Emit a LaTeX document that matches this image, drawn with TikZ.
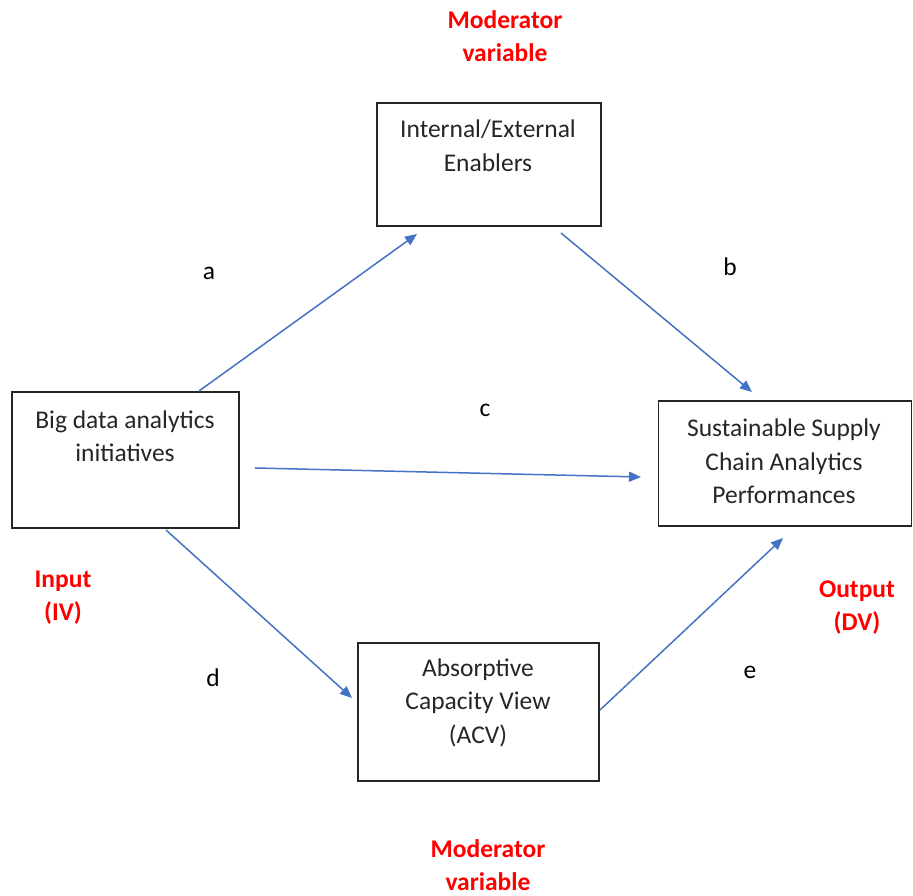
\documentclass[tikz,border=0pt]{standalone}
\usepackage{fontspec}
\setmainfont{Carlito}
\usetikzlibrary{arrows.meta,calc}
\definecolor{arrowblue}{HTML}{4472C4}
\definecolor{redlab}{HTML}{FF0000}
\tikzset{
  box/.style={draw=black!85, line width=1.4pt, minimum width=#1, inner sep=0pt},
  txt/.style={align=center, inner sep=0pt, font=\fontsize{25.5}{33.5}\selectfont, text=black!85},
  redtxt/.style={align=center, inner sep=0pt, font=\fontsize{25.5}{33}\selectfont\bfseries, text=redlab},
  lab/.style={inner sep=0pt, font=\fontsize{25.5}{33.5}\selectfont},
  conn/.style={draw=arrowblue, line width=1.5pt, -{Triangle[length=12pt,width=10pt]}}
}
\begin{document}
\begin{tikzpicture}[x=1pt,y=-1pt]
\useasboundingbox (0,0) rectangle (913,896);
% boxes
\node[box=227pt, minimum height=136pt] (bd) at (125.5,460) {};
\node[box=224pt, minimum height=123pt] (ie) at (489,164.5) {};
\node[box=253pt, minimum height=125pt] (ss) at (785,463.5) {};
\node[box=241pt, minimum height=138pt] (acv) at (478.5,712) {};
% box texts
\node[txt] (bdt) at (125,436) {Big data analytics\\initiatives};
\node[txt] (iet) at (488,145.5) {Internal/External\\Enablers};
\node[txt] (sst) at (784,461.5) {Sustainable Supply\\Chain Analytics\\Performances};
\node[txt] (acvt) at (478,702.5) {Absorptive\\Capacity View\\(ACV)};
% red labels
\node[redtxt] (modtop) at (505,36.5) {Moderator\\variable};
\node[redtxt] (modbot) at (488,865) {Moderator\\variable};
\node[redtxt] (inp) at (63,597.5) {Input\\(IV)};
\node[redtxt] (outp) at (857,607.5) {Output\\(DV)};
% connector letters
\node[lab] (la) at (209,273) {a};
\node[lab] (lb) at (730,267) {b};
\node[lab] (lc) at (485,410) {c};
\node[lab] (ld) at (213,678) {d};
\node[lab] (le) at (750,672) {e};
% connector ends
\coordinate (a1) at (199,391);
\coordinate (a2) at (417,234);
\coordinate (b1) at (561,233);
\coordinate (b2) at (752,392);
\coordinate (c1) at (255,468);
\coordinate (c2) at (641,477);
\coordinate (d1) at (166,530);
\coordinate (d2) at (352,698);
\coordinate (e1) at (600,710);
\coordinate (e2) at (783,538);
\draw[conn] (a1) -- (a2);
\draw[conn] (b1) -- (b2);
\draw[conn] (c1) -- (c2);
\draw[conn] (d1) -- (d2);
\draw[conn] (e1) -- (e2);
\end{tikzpicture}
\end{document}
